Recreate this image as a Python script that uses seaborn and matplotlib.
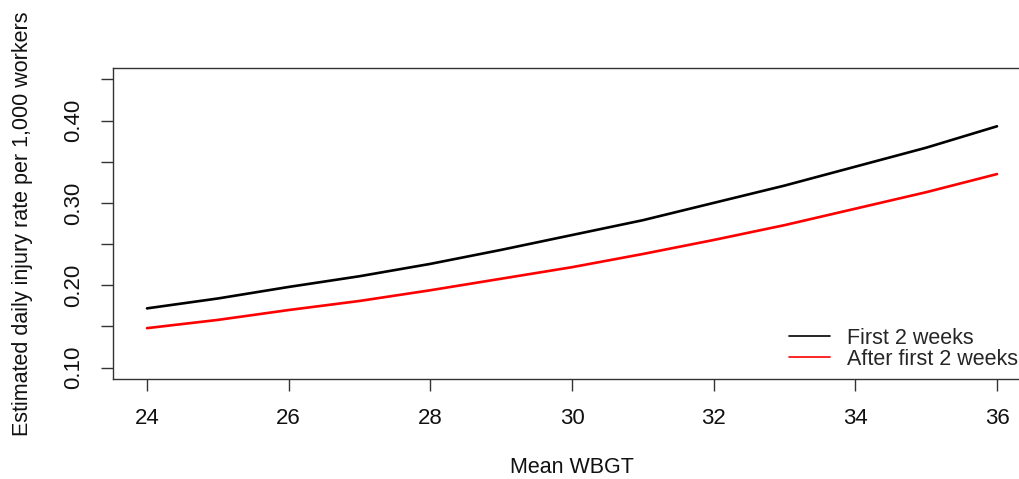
import pandas as pd
import matplotlib.pyplot as plt
import seaborn as sns

# Values
wbgt = [24, 25, 26, 27, 28, 29, 30, 31, 32, 33, 34, 35, 36]
first_two_weeks = [0.172, 0.184, 0.198, 0.211, 0.226, 0.243, 0.261,
                   0.279, 0.300, 0.321, 0.344, 0.367, 0.393]
after_first_two_weeks = [0.148, 0.158, 0.170, 0.181, 0.194, 0.208, 0.222,
                         0.238, 0.255, 0.273, 0.293, 0.313, 0.335]
series_names = ['First 2 weeks', 'After first 2 weeks']
x_ticks = [24, 26, 28, 30, 32, 34, 36]
y_ticks = [0.10, 0.15, 0.20, 0.25, 0.30, 0.35, 0.40, 0.45]
y_tick_labels = ['0.10', '', '0.20', '', '0.30', '', '0.40', '']

# Long format table for seaborn
data = pd.DataFrame({
    'Mean WBGT': wbgt * 2,
    'rate': first_two_weeks + after_first_two_weeks,
    'group': [series_names[0]] * len(wbgt) + [series_names[1]] * len(wbgt),
})

sns.set_style('white')
plt.rcParams['font.family'] = ['Liberation Sans', 'DejaVu Sans']

fig = plt.figure(figsize=(10.19, 4.79), dpi=100)
ax = fig.add_axes([0.1109, 0.2088, 0.9009, 0.6492])

sns.lineplot(data=data, x='Mean WBGT', y='rate', hue='group',
             palette={series_names[0]: 'black', series_names[1]: 'red'},
             linewidth=1.9, ax=ax)

ax.set_xlim(23.52, 36.48)
ax.set_ylim(0.0863, 0.4637)
ax.set_xticks(x_ticks)
ax.set_xticklabels([str(t) for t in x_ticks])
ax.set_yticks(y_ticks)
ax.set_yticklabels(y_tick_labels, rotation=90, va='center')

ax.tick_params(axis='both', direction='out', length=8.6, width=1,
               color='#333333', labelsize=16, labelcolor='#111111')
ax.tick_params(axis='x', pad=12.5)
ax.tick_params(axis='y', pad=12)
ax.tick_params(left=True, bottom=True)

for s in ax.spines.values():
    s.set_color('#333333')
    s.set_linewidth(1)

ax.set_xlabel('Mean WBGT', fontsize=15.5, color='#111111')
ax.set_ylabel('Estimated daily injury rate per 1,000 workers', fontsize=15.5, color='#111111')
ax.xaxis.set_label_coords(0.5, -0.25)
ax.yaxis.set_label_coords(-0.087, 0.5)

leg = ax.legend(loc='upper left', bbox_to_anchor=(789 / 1019, 1 - 328 / 479),
                bbox_transform=fig.transFigure, frameon=False, fontsize=15.5,
                handlelength=1.9, handletextpad=0.8, labelspacing=0.0,
                borderpad=0, borderaxespad=0)
for h in leg.get_lines():
    h.set_linewidth(1.2)

fig.savefig('out.png', dpi=100)
